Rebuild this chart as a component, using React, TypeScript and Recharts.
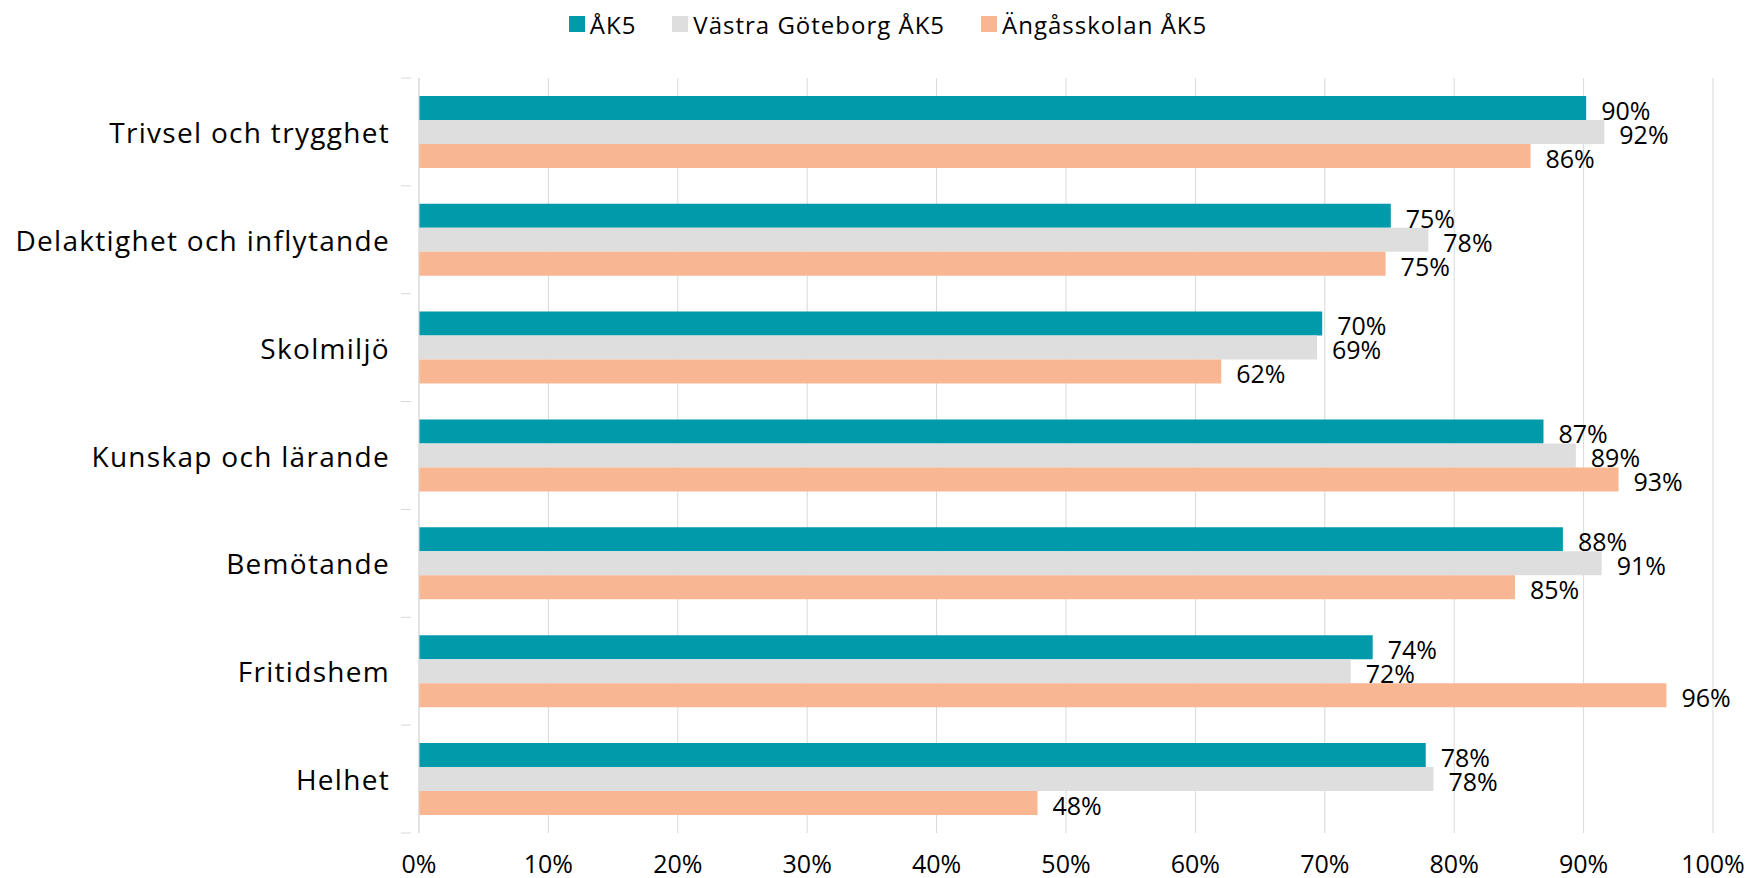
import { Bar, BarChart, CartesianGrid, LabelList, Legend, XAxis, YAxis } from "recharts";

const categories = [
  "Trivsel och trygghet",
  "Delaktighet och inflytande",
  "Skolmiljö",
  "Kunskap och lärande",
  "Bemötande",
  "Fritidshem",
  "Helhet",
];
const seriesNames = ["ÅK5", "Västra Göteborg ÅK5", "Ängåsskolan ÅK5"];
const ak5 = [90.2, 75.1, 69.8, 86.9, 88.4, 73.7, 77.8];
const vastraGoteborg = [91.6, 78.0, 69.4, 89.4, 91.4, 72.0, 78.4];
const angasskolan = [85.9, 74.7, 62.0, 92.7, 84.7, 96.4, 47.8];
const xTicks = [0, 10, 20, 30, 40, 50, 60, 70, 80, 90, 100];

const TEAL = "#009aaa";
const GREY = "#dedede";
const ORANGE = "#f8b692";
const GRID = "#d9d9d9";
const FONT = "'Open Sans', sans-serif";

const WIDTH = 1748;
const HEIGHT = 878;
const LEGEND_H = 36;
const MARGIN = { top: 78 - LEGEND_H, right: 35, bottom: 0, left: 0 };
const X_AXIS_H = 45;
const PLOT_H = HEIGHT - 78 - X_AXIS_H - MARGIN.bottom;

const data = categories.map((name, i) => ({
  name,
  ak5: ak5[i],
  vastra: vastraGoteborg[i],
  angas: angasskolan[i],
}));

function CategoryTick(props: any) {
  const { x, y, payload, index } = props;
  const band = PLOT_H / categories.length;
  return (
    <g>
      <text
        x={x - 21}
        y={y}
        textAnchor="end"
        dominantBaseline="central"
        fontSize={28}
        letterSpacing={1.3}
        fill="#000"
        fontFamily={FONT}
      >
        {payload.value}
      </text>
      <line x1={x - 10} x2={x} y1={y - band / 2} y2={y - band / 2} stroke={GRID} />
      {index === categories.length - 1 && (
        <line x1={x - 10} x2={x} y1={y + band / 2} y2={y + band / 2} stroke={GRID} />
      )}
    </g>
  );
}

function LegendContent(props: any) {
  const items = [...(props.payload || [])].sort(
    (a: any, b: any) => seriesNames.indexOf(a.value) - seriesNames.indexOf(b.value)
  );
  return (
    <div
      style={{
        height: LEGEND_H,
        display: "flex",
        justifyContent: "center",
        alignItems: "center",
        gap: 36,
        paddingLeft: 28,
        fontFamily: FONT,
        fontSize: 24,
        letterSpacing: 1,
        color: "#000",
      }}
    >
      {items.map((item: any) => (
        <div key={item.value} style={{ display: "flex", alignItems: "center" }}>
          <span
            style={{
              width: 16,
              height: 16,
              background: item.color,
              display: "inline-block",
              marginRight: 5,
            }}
          />
          <span>{item.value}</span>
        </div>
      ))}
    </div>
  );
}

const pct = (v: any) => `${Math.round(Number(v))}%`;

const labelProps = {
  position: "right" as const,
  offset: 15,
  formatter: pct,
  fill: "#000",
  fontSize: 25,
  fontFamily: FONT,
  dy: 3,
};

export default function App() {
  return (
    <div style={{ position: "absolute", left: 0, top: 0, background: "#fff" }}>
      <BarChart
        width={WIDTH}
        height={HEIGHT}
        data={data}
        layout="vertical"
        margin={MARGIN}
        barCategoryGap="16.6%"
        barGap={0}
        style={{ fontFamily: FONT }}
      >
        <CartesianGrid horizontal={false} stroke={GRID} />
        <XAxis
          type="number"
          domain={[0, 100]}
          ticks={xTicks}
          tickFormatter={(v) => `${v}%`}
          axisLine={false}
          tickLine={false}
          tickSize={0}
          tickMargin={22}
          height={X_AXIS_H}
          tick={{ fill: "#000", fontSize: 25, fontFamily: FONT }}
          interval={0}
        />
        <YAxis
          type="category"
          dataKey="name"
          width={419}
          axisLine={{ stroke: GRID }}
          tickLine={false}
          tick={<CategoryTick />}
          interval={0}
        />
        <Legend
          verticalAlign="top"
          align="center"
          content={<LegendContent />}
          wrapperStyle={{ top: 6, left: 0, width: WIDTH }}
        />
        <Bar dataKey="ak5" name={seriesNames[0]} fill={TEAL} isAnimationActive={false}>
          <LabelList dataKey="ak5" {...labelProps} />
        </Bar>
        <Bar dataKey="vastra" name={seriesNames[1]} fill={GREY} isAnimationActive={false}>
          <LabelList dataKey="vastra" {...labelProps} />
        </Bar>
        <Bar dataKey="angas" name={seriesNames[2]} fill={ORANGE} isAnimationActive={false}>
          <LabelList dataKey="angas" {...labelProps} />
        </Bar>
      </BarChart>
    </div>
  );
}
